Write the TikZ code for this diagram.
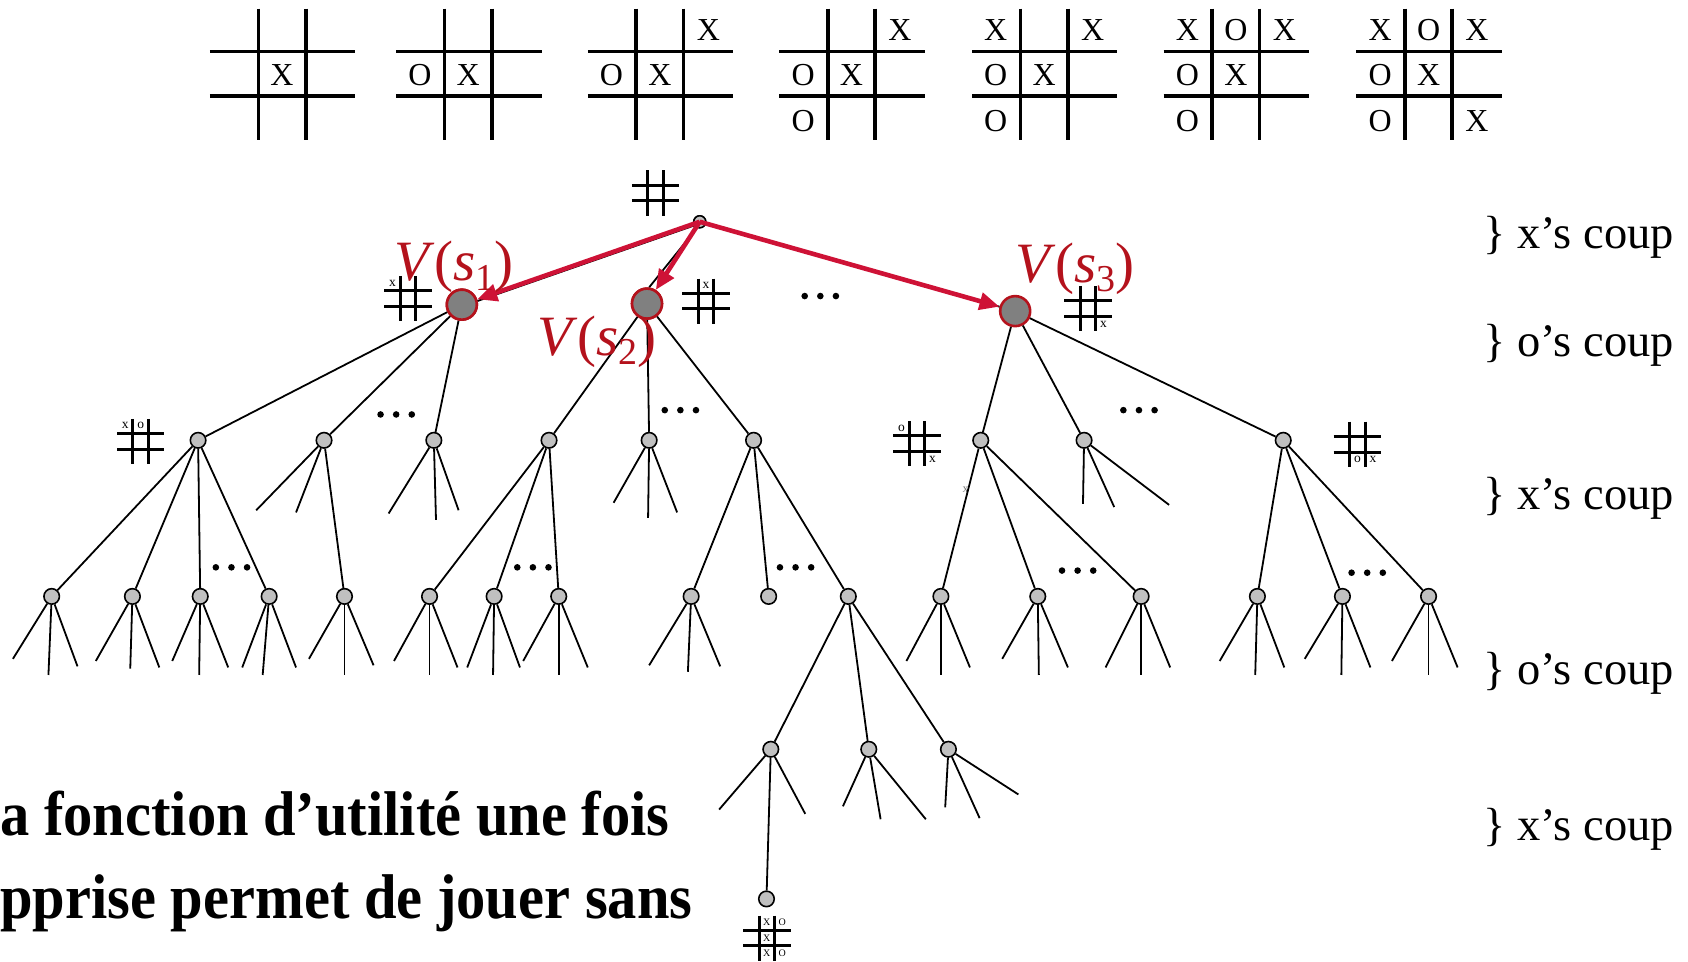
\documentclass[tikz,border=0pt]{standalone}
\usepackage{fontspec}
\setmainfont{Liberation Serif}
\usetikzlibrary{arrows.meta}
\definecolor{vred}{RGB}{180,18,28}
\definecolor{ared}{RGB}{206,18,54}
\definecolor{lgray}{RGB}{192,192,192}
\definecolor{dgray}{RGB}{128,128,128}
\newcommand{\bigboard}[3]{%
  \begin{scope}[shift={(#2,0)}]
    \draw[bigline] (0,48) -- (135,48) (0,89) -- (135,89) (45,8) -- (45,130) (89,8) -- (89,130);
    \foreach \c/\r/\t in {#3} \node[bigletter] (#1-\c-\r) at ({22+45*\c},{28+42*\r}) {\t};
  \end{scope}}
\newcommand{\smallgrid}[2]{%
  \begin{scope}[shift={(#1,#2)}]
    \draw[smline] (-22,-7.2) -- (22,-7.2) (-22,7.2) -- (22,7.2) (-7.2,-21) -- (-7.2,21) (7.2,-21) -- (7.2,21);
  \end{scope}}
\newcommand{\smallletters}[4]{%
  \begin{scope}[shift={(#2,#3)}]
    \foreach \c/\r/\t in {#4} \node[smletter] (#1-\c-\r) at ({14.4*\c},{14.4*\r}) {\t};
  \end{scope}}
\newcommand{\fan}[2]{\foreach \fx/\fy [count=\k] in {#2} {\coordinate (#1-\k) at (\fx,\fy); \draw[edge] (#1) -- (#1-\k);}}
\newcommand{\threedots}[2]{\foreach \d in {-1,0,1} \fill ({#1+14.5*\d},#2) circle (3.3pt);}
\begin{document}
\begin{tikzpicture}[x=1.076531pt,y=-1.076531pt,
  edge/.style={line width=1.8pt},
  small/.style={circle, draw, line width=1.6pt, fill=lgray, minimum size=15.5pt, inner sep=0pt},
  big/.style={circle, draw=vred, line width=2.6pt, fill=dgray, minimum size=30pt, inner sep=0pt},
  rootnode/.style={circle, draw, line width=1.5pt, fill=lgray, minimum size=12pt, inner sep=0pt},
  redarrow/.style={draw=ared, line width=4.6pt, -{Triangle[length=20pt,width=17pt]}},
  bigline/.style={line width=3.6pt},
  smline/.style={line width=3pt},
  bigletter/.style={font=\fontsize{32}{32}\selectfont, inner sep=0pt},
  smletter/.style={font=\fontsize{13.5}{13.5}\selectfont, inner sep=0pt},
  vlab/.style={text=vred, font=\fontsize{57}{57}\selectfont, inner sep=0pt, anchor=base west},
  coup/.style={font=\fontsize{46.5}{46.5}\selectfont, inner sep=0pt, anchor=base west},
  boldtxt/.style={font=\fontsize{58.5}{58.5}\selectfont\bfseries, inner sep=0pt, anchor=base west},
]
\useasboundingbox (0,0) rectangle (1568,893.6);

% top boards
\bigboard{B1}{195}{1/1/X}
\bigboard{B2}{368}{0/1/O,1/1/X}
\bigboard{B3}{546}{2/0/X,0/1/O,1/1/X}
\bigboard{B4}{724}{2/0/X,0/1/O,1/1/X,0/2/O}
\bigboard{B5}{903}{0/0/X,2/0/X,0/1/O,1/1/X,0/2/O}
\bigboard{B6}{1081}{0/0/X,1/0/O,2/0/X,0/1/O,1/1/X,0/2/O}
\bigboard{B7}{1260}{0/0/X,1/0/O,2/0/X,0/1/O,1/1/X,0/2/O,2/2/X}

% small boards
\smallgrid{609}{179.2}
\smallgrid{379}{277.3}\smallletters{SB1}{379}{277.3}{-1/-1/x}
\smallgrid{655.7}{279.8}\smallletters{SB2}{655.7}{279.8}{0/-1/x}
\smallgrid{1010.7}{286.5}\smallletters{SB3}{1010.7}{286.5}{1/1/x}
\smallgrid{130.7}{410}\smallletters{SBA}{130.7}{410}{-1/-1/x,0/-1/o}
\smallgrid{851.8}{412.2}\smallletters{SBG}{851.8}{412.2}{-1/-1/o,1/1/x}
\smallgrid{1260.9}{412.7}\smallletters{SBI}{1260.9}{412.7}{0/1/o,1/1/x}
\smallgrid{712.3}{871.5}
\begin{scope}[smletter/.append style={font=\fontsize{10}{10}\selectfont}]
\smallletters{SBE}{712.3}{871.5}{0/-1/X,1/-1/O,0/0/X,0/1/X,1/1/O}
\end{scope}
\node[font=\fontsize{12}{12}\selectfont, text=black!55, inner sep=0pt] (strayx) at (897,455) {x};

% tree nodes
\node[rootnode] (root) at (650,206) {};
\node[big] (s1) at (429,283) {};
\node[big] (s2) at (601,282) {};
\node[big] (s3) at (943,289) {};
\foreach \n/\x in {a/184,b/301,c/403,d/510,e/603,f/700,g/911,h/1007,i/1192}
  \node[small] (\n) at (\x,409) {};
\foreach \n/\x in {a1/48,a2/123,a3/186,a4/250,b1/320,d1/399,d2/459,d3/519,f1/642,f2/714,f3/788,g1/874,g2/964,g3/1060,i1/1168,i2/1247,i3/1327}
  \node[small] (\n) at (\x,554) {};
\foreach \n/\x in {f3a/716,f3b/807,f3c/881}
  \node[small] (\n) at (\x,696) {};
\node[small] (leafend) at (712,835) {};

% edges
\draw[edge] ([yshift=-1.8pt]root.center) -- ([yshift=-1.8pt]s1.center);
\draw[edge] ([xshift=2.2pt]root.center) -- ([xshift=2.2pt]s2.north);
\draw[edge] (root) -- (s3);
\foreach \p/\q in {s1/a,s1/b,s1/c,s2/d,s2/e,s2/f,s3/g,s3/h,s3/i,
  a/a1,a/a2,a/a3,a/a4,b/b1,d/d1,d/d2,d/d3,f/f1,f/f2,f/f3,g/g1,g/g2,g/g3,i/i1,i/i2,i/i3,
  f3/f3a,f3/f3b,f3/f3c,f3a/leafend}
  \draw[edge] (\p) -- (\q);
\node[rootnode] at (root) {};
\node[big] at (s1) {};
\node[big] at (s2) {};

\fan{b}{238/474,275/476}
\fan{c}{361/477,405/483,426/474}
\fan{e}{570/467,602/481,629/476}
\fan{h}{1006/468,1035/471,1086/469}
\fan{a1}{12/612,45/627,72/619}
\fan{a2}{89/614,121/621,148/620}
\fan{a3}{160/614,185/627,212/620}
\fan{a4}{225/620,244/627,275/620}
\fan{b1}{287/612,320/627,347/618}
\fan{d1}{366/614,399/627,425/620}
\fan{d2}{434/620,458/627,483/620}
\fan{d3}{486/614,519/627,546/620}
\fan{f1}{603/618,639/624,669/619}
\fan{g1}{842/614,874/627,901/620}
\fan{g2}{931/612,965/627,992/620}
\fan{g3}{1027/620,1060/627,1087/620}
\fan{i1}{1133/614,1166/627,1193/620}
\fan{i2}{1212/612,1246/627,1273/620}
\fan{i3}{1293/614,1327/627,1354/620}
\fan{f3a}{668/752,748/756}
\fan{f3b}{783/749,818/761,860/761}
\fan{f3c}{878/750,910/760,946/738}

% red arrows
\draw[redarrow] (root.center) -- (s1);
\draw[redarrow] (root.center) -- (s2);
\draw[redarrow] (root.center) -- (s3);

% dots
\threedots{762}{275}
\threedots{368}{385}
\threedots{632}{381}
\threedots{1058}{381}
\threedots{215}{527}
\threedots{495}{527}
\threedots{739}{527}
\threedots{1001}{530}
\threedots{1270}{532}

% value labels
\node[vlab] (v1) at (366,261) {\textit{V}(\textit{s}\lower0.16em\hbox{\fontsize{38}{38}\selectfont 1})};
\node[vlab] (v2) at (499,330) {\textit{V}(\textit{s}\lower0.16em\hbox{\fontsize{38}{38}\selectfont 2})};
\node[vlab] (v3) at (943,262) {\textit{V}(\textit{s}\lower0.16em\hbox{\fontsize{38}{38}\selectfont 3})};

% move labels
\node[coup] (m1) at (1378,231) {\} x’s coup};
\node[coup] (m2) at (1378,331) {\} o’s coup};
\node[coup] (m3) at (1378,473) {\} x’s coup};
\node[coup] (m4) at (1378,636) {\} o’s coup};
\node[coup] (m5) at (1378,781) {\} x’s coup};

% bottom text
\node[boldtxt] (t1) at (0,776) {\scalebox{1}[1.08]{a fonction d’utilité une fois}};
\node[boldtxt] (t2) at (0,853) {\scalebox{1}[1.08]{pprise permet de jouer sans}};
\end{tikzpicture}
\end{document}
